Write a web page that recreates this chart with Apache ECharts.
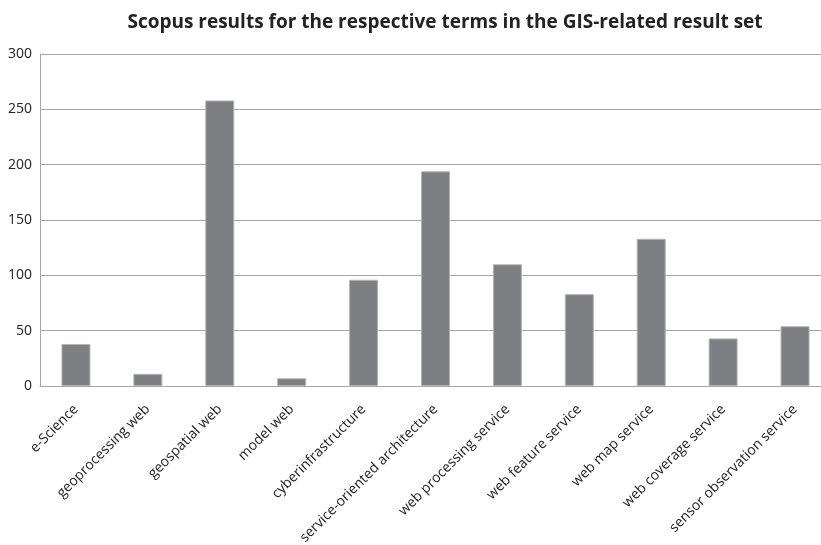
<!DOCTYPE html>
<html>
<head>
<meta charset="utf-8">
<script src="https://cdn.jsdelivr.net/npm/echarts@6/dist/echarts.min.js"></script>
<style>
  html, body { margin: 0; padding: 0; background: #fff; }
  #chart { width: 821px; height: 545px; }
</style>
</head>
<body>
<div id="chart"></div>
<script>
// terms (x categories)
var terms = [
  'e-Science', 'geoprocessing web', 'geospatial web', 'model web',
  'cyberinfrastructure', 'service-oriented architecture',
  'web processing service', 'web feature service', 'web map service',
  'web coverage service', 'sensor observation service'
];
// Scopus result counts
var counts = [38, 11, 258, 7, 96, 194, 110, 83, 133, 43, 54];
// y axis ticks
var yMin = 0, yMax = 300, yStep = 50;

var chart = echarts.init(document.getElementById('chart'));
chart.setOption({
  backgroundColor: '#fff',
  animation: false,
  title: {
    text: 'Scopus results for the respective terms in the GIS-related result set',
    left: 440,
    textAlign: 'center',
    top: 8,
    textStyle: { fontFamily: 'Open Sans', fontWeight: 'bold', fontSize: 19, color: '#222' }
  },
  // plot runs a little past the right edge, as in the cropped original
  grid: { left: 40, width: 791, top: 54, bottom: 159, containLabel: false, outerBoundsMode: 'none' },
  xAxis: {
    type: 'category',
    data: terms,
    axisLine: { lineStyle: { color: '#a6a6a6', width: 1 } },
    axisTick: { show: false },
    axisLabel: {
      interval: 0,
      rotate: 45,
      margin: 21,
      fontFamily: 'Open Sans',
      fontSize: 14,
      color: '#222'
    }
  },
  yAxis: {
    type: 'value',
    min: yMin,
    max: yMax,
    interval: yStep,
    axisLine: { show: true, lineStyle: { color: '#a6a6a6' } },
    axisTick: { show: false },
    splitLine: { lineStyle: { color: '#a6a6a6', width: 1 } },
    axisLabel: { fontFamily: 'Open Sans', fontSize: 14, color: '#222', margin: 8 }
  },
  series: [{
    type: 'bar',
    data: counts,
    barWidth: 29,
    itemStyle: { color: '#7e7f83', borderColor: '#b4b4b4', borderWidth: 1 }
  }]
});
</script>
</body>
</html>
